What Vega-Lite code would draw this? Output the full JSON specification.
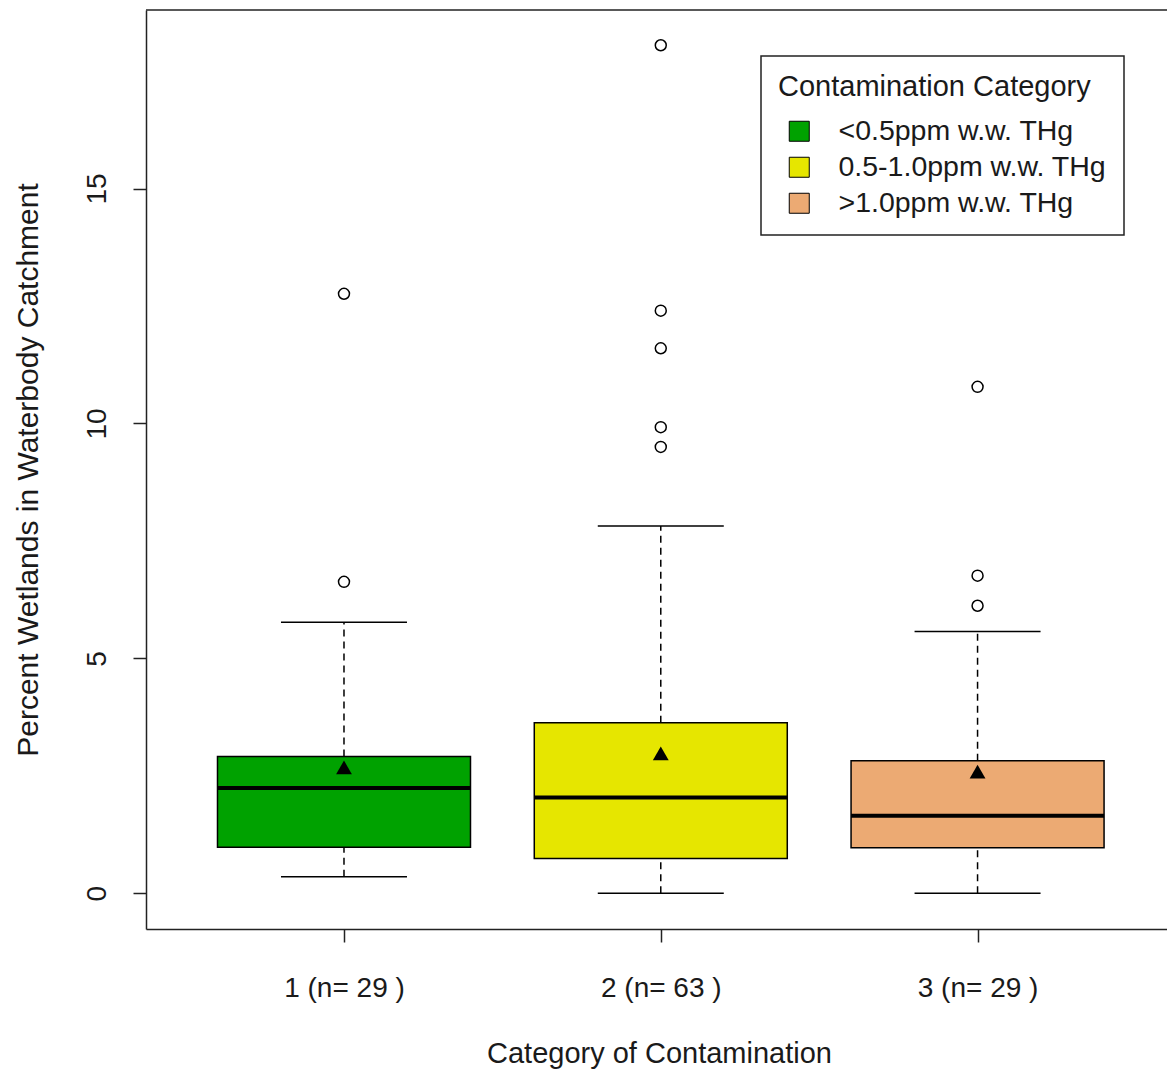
{
  "$schema": "https://vega.github.io/schema/vega-lite/v6.json",
  "autosize": "none",
  "width": 1021,
  "height": 919,
  "padding": {"left": 146, "top": 10, "right": 0, "bottom": 147},
  "background": "white",
  "config": {
    "view": {"stroke": null},
    "font": "Liberation Sans",
    "axis": {
      "labelFont": "Liberation Sans",
      "titleFont": "Liberation Sans",
      "labelFontSize": 28,
      "titleFontSize": 29,
      "titleFontWeight": "normal",
      "labelColor": "#1a1a1a",
      "titleColor": "#1a1a1a",
      "domainColor": "#222",
      "domainWidth": 1.5,
      "tickColor": "#222",
      "tickWidth": 1.5,
      "tickSize": 13,
      "grid": false
    },
    "legend": {"strokeWidth": 1.5}
  },
  "datasets": {
    "boxes": [
      {"group": 1, "level": "<0.5ppm w.w. THg", "lo": 0.35, "q1": 0.98, "median": 2.24, "q3": 2.91, "hi": 5.77, "mean": 2.68},
      {"group": 2, "level": "0.5-1.0ppm w.w. THg", "lo": 0.0, "q1": 0.74, "median": 2.04, "q3": 3.63, "hi": 7.82, "mean": 2.98},
      {"group": 3, "level": ">1.0ppm w.w. THg", "lo": 0.0, "q1": 0.97, "median": 1.65, "q3": 2.82, "hi": 5.57, "mean": 2.59}
    ],
    "outliers": [
      {"group": 1, "value": 6.63},
      {"group": 1, "value": 12.76},
      {"group": 2, "value": 9.5},
      {"group": 2, "value": 9.92},
      {"group": 2, "value": 11.6},
      {"group": 2, "value": 12.4},
      {"group": 2, "value": 18.05},
      {"group": 3, "value": 6.12},
      {"group": 3, "value": 6.76},
      {"group": 3, "value": 10.78}
    ],
    "frame": [{"top": 18.8}]
  },
  "data": {"name": "boxes"},
  "layer": [
    {
      "data": {"name": "frame"},
      "mark": {"type": "rule", "color": "#222", "strokeWidth": 1.5},
      "encoding": {
        "y": {"field": "top", "type": "quantitative"}
      }
    },
    {
      "mark": {"type": "rule", "color": "black", "strokeWidth": 1.5, "strokeDash": [7, 5]},
      "encoding": {
        "x": {"field": "group", "type": "quantitative"},
        "y": {"field": "q3", "type": "quantitative"},
        "y2": {"field": "hi"}
      }
    },
    {
      "mark": {"type": "rule", "color": "black", "strokeWidth": 1.5, "strokeDash": [7, 5]},
      "encoding": {
        "x": {"field": "group", "type": "quantitative"},
        "y": {"field": "lo", "type": "quantitative"},
        "y2": {"field": "q1"}
      }
    },
    {
      "mark": {"type": "tick", "orient": "horizontal", "color": "black", "size": 126, "thickness": 1.5, "opacity": 1},
      "encoding": {
        "x": {"field": "group", "type": "quantitative"},
        "y": {"field": "hi", "type": "quantitative"}
      }
    },
    {
      "mark": {"type": "tick", "orient": "horizontal", "color": "black", "size": 126, "thickness": 1.5, "opacity": 1},
      "encoding": {
        "x": {"field": "group", "type": "quantitative"},
        "y": {"field": "lo", "type": "quantitative"}
      }
    },
    {
      "mark": {"type": "bar", "size": 253, "stroke": "black", "strokeWidth": 1.5, "fillOpacity": 1},
      "encoding": {
        "x": {
          "field": "group",
          "type": "quantitative",
          "scale": {"domain": [0.375, 3.598], "nice": false, "zero": false, "padding": 0},
          "axis": {
            "values": [1, 2, 3],
            "labelExpr": "datum.value == 1 ? '1 (n= 29 )' : datum.value == 2 ? '2 (n= 63 )' : '3 (n= 29 )'",
            "labelPadding": 32,
            "title": "Category of Contamination",
            "titlePadding": 37,
            "titleX": 513
          }
        },
        "y": {
          "field": "q1",
          "type": "quantitative",
          "scale": {"domain": [-0.76, 18.8], "nice": false, "zero": false},
          "axis": {
            "values": [0, 5, 10, 15],
            "labelAngle": 270,
            "labelAlign": "center",
            "labelBaseline": "bottom",
            "labelPadding": 22,
            "title": "Percent Wetlands in Waterbody Catchment",
            "titleFontSize": 30,
            "titlePadding": 40
          }
        },
        "y2": {"field": "q3"},
        "fill": {
          "field": "level",
          "type": "nominal",
          "scale": {
            "domain": ["<0.5ppm w.w. THg", "0.5-1.0ppm w.w. THg", ">1.0ppm w.w. THg"],
            "range": ["#00A200", "#E6E600", "#ECAA73"]
          },
          "legend": {
            "orient": "none",
            "legendX": 615,
            "legendY": 46,
            "title": "Contamination Category",
            "titleFont": "Liberation Sans",
            "titleFontSize": 29,
            "titleFontWeight": "normal",
            "titleColor": "#1a1a1a",
            "titlePadding": 15,
            "titleLimit": 0,
            "labelLimit": 0,
            "labelFont": "Liberation Sans",
            "labelFontSize": 28.5,
            "labelColor": "#1a1a1a",
            "labelOffset": 25,
            "symbolType": "square",
            "symbolSize": 400,
            "symbolStrokeColor": "black",
            "symbolStrokeWidth": 1,
            "symbolOffset": 7,
            "rowPadding": 7,
            "padding": 17,
            "strokeColor": "#222",
            "fillColor": "white"
          }
        }
      }
    },
    {
      "mark": {"type": "tick", "orient": "horizontal", "color": "black", "size": 253, "thickness": 4, "opacity": 1},
      "encoding": {
        "x": {"field": "group", "type": "quantitative"},
        "y": {"field": "median", "type": "quantitative"}
      }
    },
    {
      "mark": {"type": "point", "shape": "triangle-up", "filled": true, "color": "black", "size": 250, "opacity": 1},
      "encoding": {
        "x": {"field": "group", "type": "quantitative"},
        "y": {"field": "mean", "type": "quantitative"}
      }
    },
    {
      "data": {"name": "outliers"},
      "mark": {"type": "point", "shape": "circle", "filled": false, "color": "black", "size": 120, "strokeWidth": 1.5, "opacity": 1},
      "encoding": {
        "x": {"field": "group", "type": "quantitative"},
        "y": {"field": "value", "type": "quantitative"}
      }
    }
  ]
}
